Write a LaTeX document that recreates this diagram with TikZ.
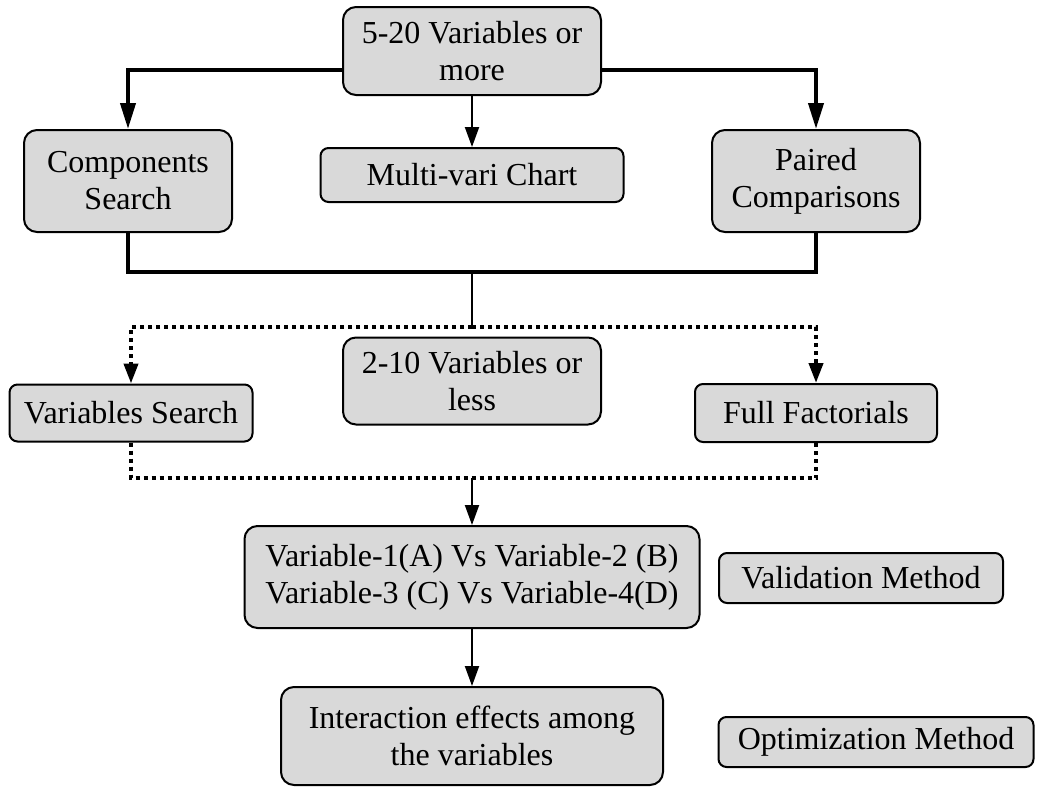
\documentclass[tikz,border=0pt]{standalone}
\usepackage{fontspec}
\setmainfont{Liberation Serif}
\usetikzlibrary{arrows.meta}
\definecolor{boxgray}{RGB}{217,217,217}
\begin{document}
\begin{tikzpicture}[x=0.5pt,y=-0.5pt,
  box/.style={draw=black, line width=1pt, fill=boxgray, align=center,
    font=\fontsize{16}{18.5}\selectfont, inner sep=0pt},
  tallbox/.style={box, rounded corners=6.5pt},
  flatbox/.style={box, rounded corners=4pt},
  heavy/.style={line width=2pt},
  light/.style={line width=1pt},
  dotline/.style={line width=2pt, dash pattern=on 2pt off 2pt},
  bigtip/.style={-{Triangle[length=13pt,width=7.5pt]}},
  smalltip/.style={-{Triangle[length=10pt,width=7pt]}}]
\useasboundingbox (0,0) rectangle (1038,787);

% boxes
\node[tallbox, minimum width=129pt, minimum height=44pt] (top) at (472,51) {5-20 Variables or\\more};
\node[tallbox, minimum width=104pt, minimum height=51pt] (comp) at (128,181) {Components\\Search};
\node[flatbox, minimum width=151.5pt, minimum height=27pt] (multi) at (472,175) {Multi-vari Chart};
\node[tallbox, minimum width=104pt, minimum height=51pt] (paired) at (816,181) {Paired\\Comparisons};

\node[flatbox, minimum width=121.5pt, minimum height=28.5pt] (vsearch) at (131,413) {Variables Search};
\node[tallbox, minimum width=129pt, minimum height=43.5pt] (two) at (472,381) {2-10 Variables or\\less};
\node[flatbox, minimum width=121pt, minimum height=29pt] (full) at (816,413) {Full Factorials};

\node[tallbox, minimum width=227.5pt, minimum height=51pt] (var) at (472,577) {Variable-1(A) Vs Variable-2 (B)\\Variable-3 (C) Vs Variable-4(D)};
\node[flatbox, minimum width=142pt, minimum height=25pt] (valid) at (861,578) {Validation Method};
\node[tallbox, minimum width=191pt, minimum height=49pt] (inter) at (472,736) {Interaction effects among\\the variables};
\node[flatbox, minimum width=157.5pt, minimum height=25pt] (optim) at (876,742) {Optimization Method};

% junction points
\coordinate (split) at (472,70);
\coordinate (merge) at (472,272);
\coordinate (fork) at (472,327);
\coordinate (join) at (472,478);

% upper level
\draw[heavy, bigtip] (top.west |- split) -| (comp.north);
\draw[heavy, bigtip] (top.east |- split) -| (paired.north);
\draw[light, smalltip] (top.south) -- (multi.north);
\draw[heavy] (comp.south) |- (merge) -| (paired.south);
\draw[light] (merge) -- (fork);

% middle level
\draw[dotline, smalltip] (fork) -| (vsearch.north);
\draw[dotline, smalltip] (fork) -| (full.north);
\draw[dotline] (vsearch.south) |- (join) -| (full.south);

% lower level
\draw[light, smalltip] (join) -- (var.north);
\draw[light, smalltip] (var.south) -- (inter.north);
\end{tikzpicture}
\end{document}
